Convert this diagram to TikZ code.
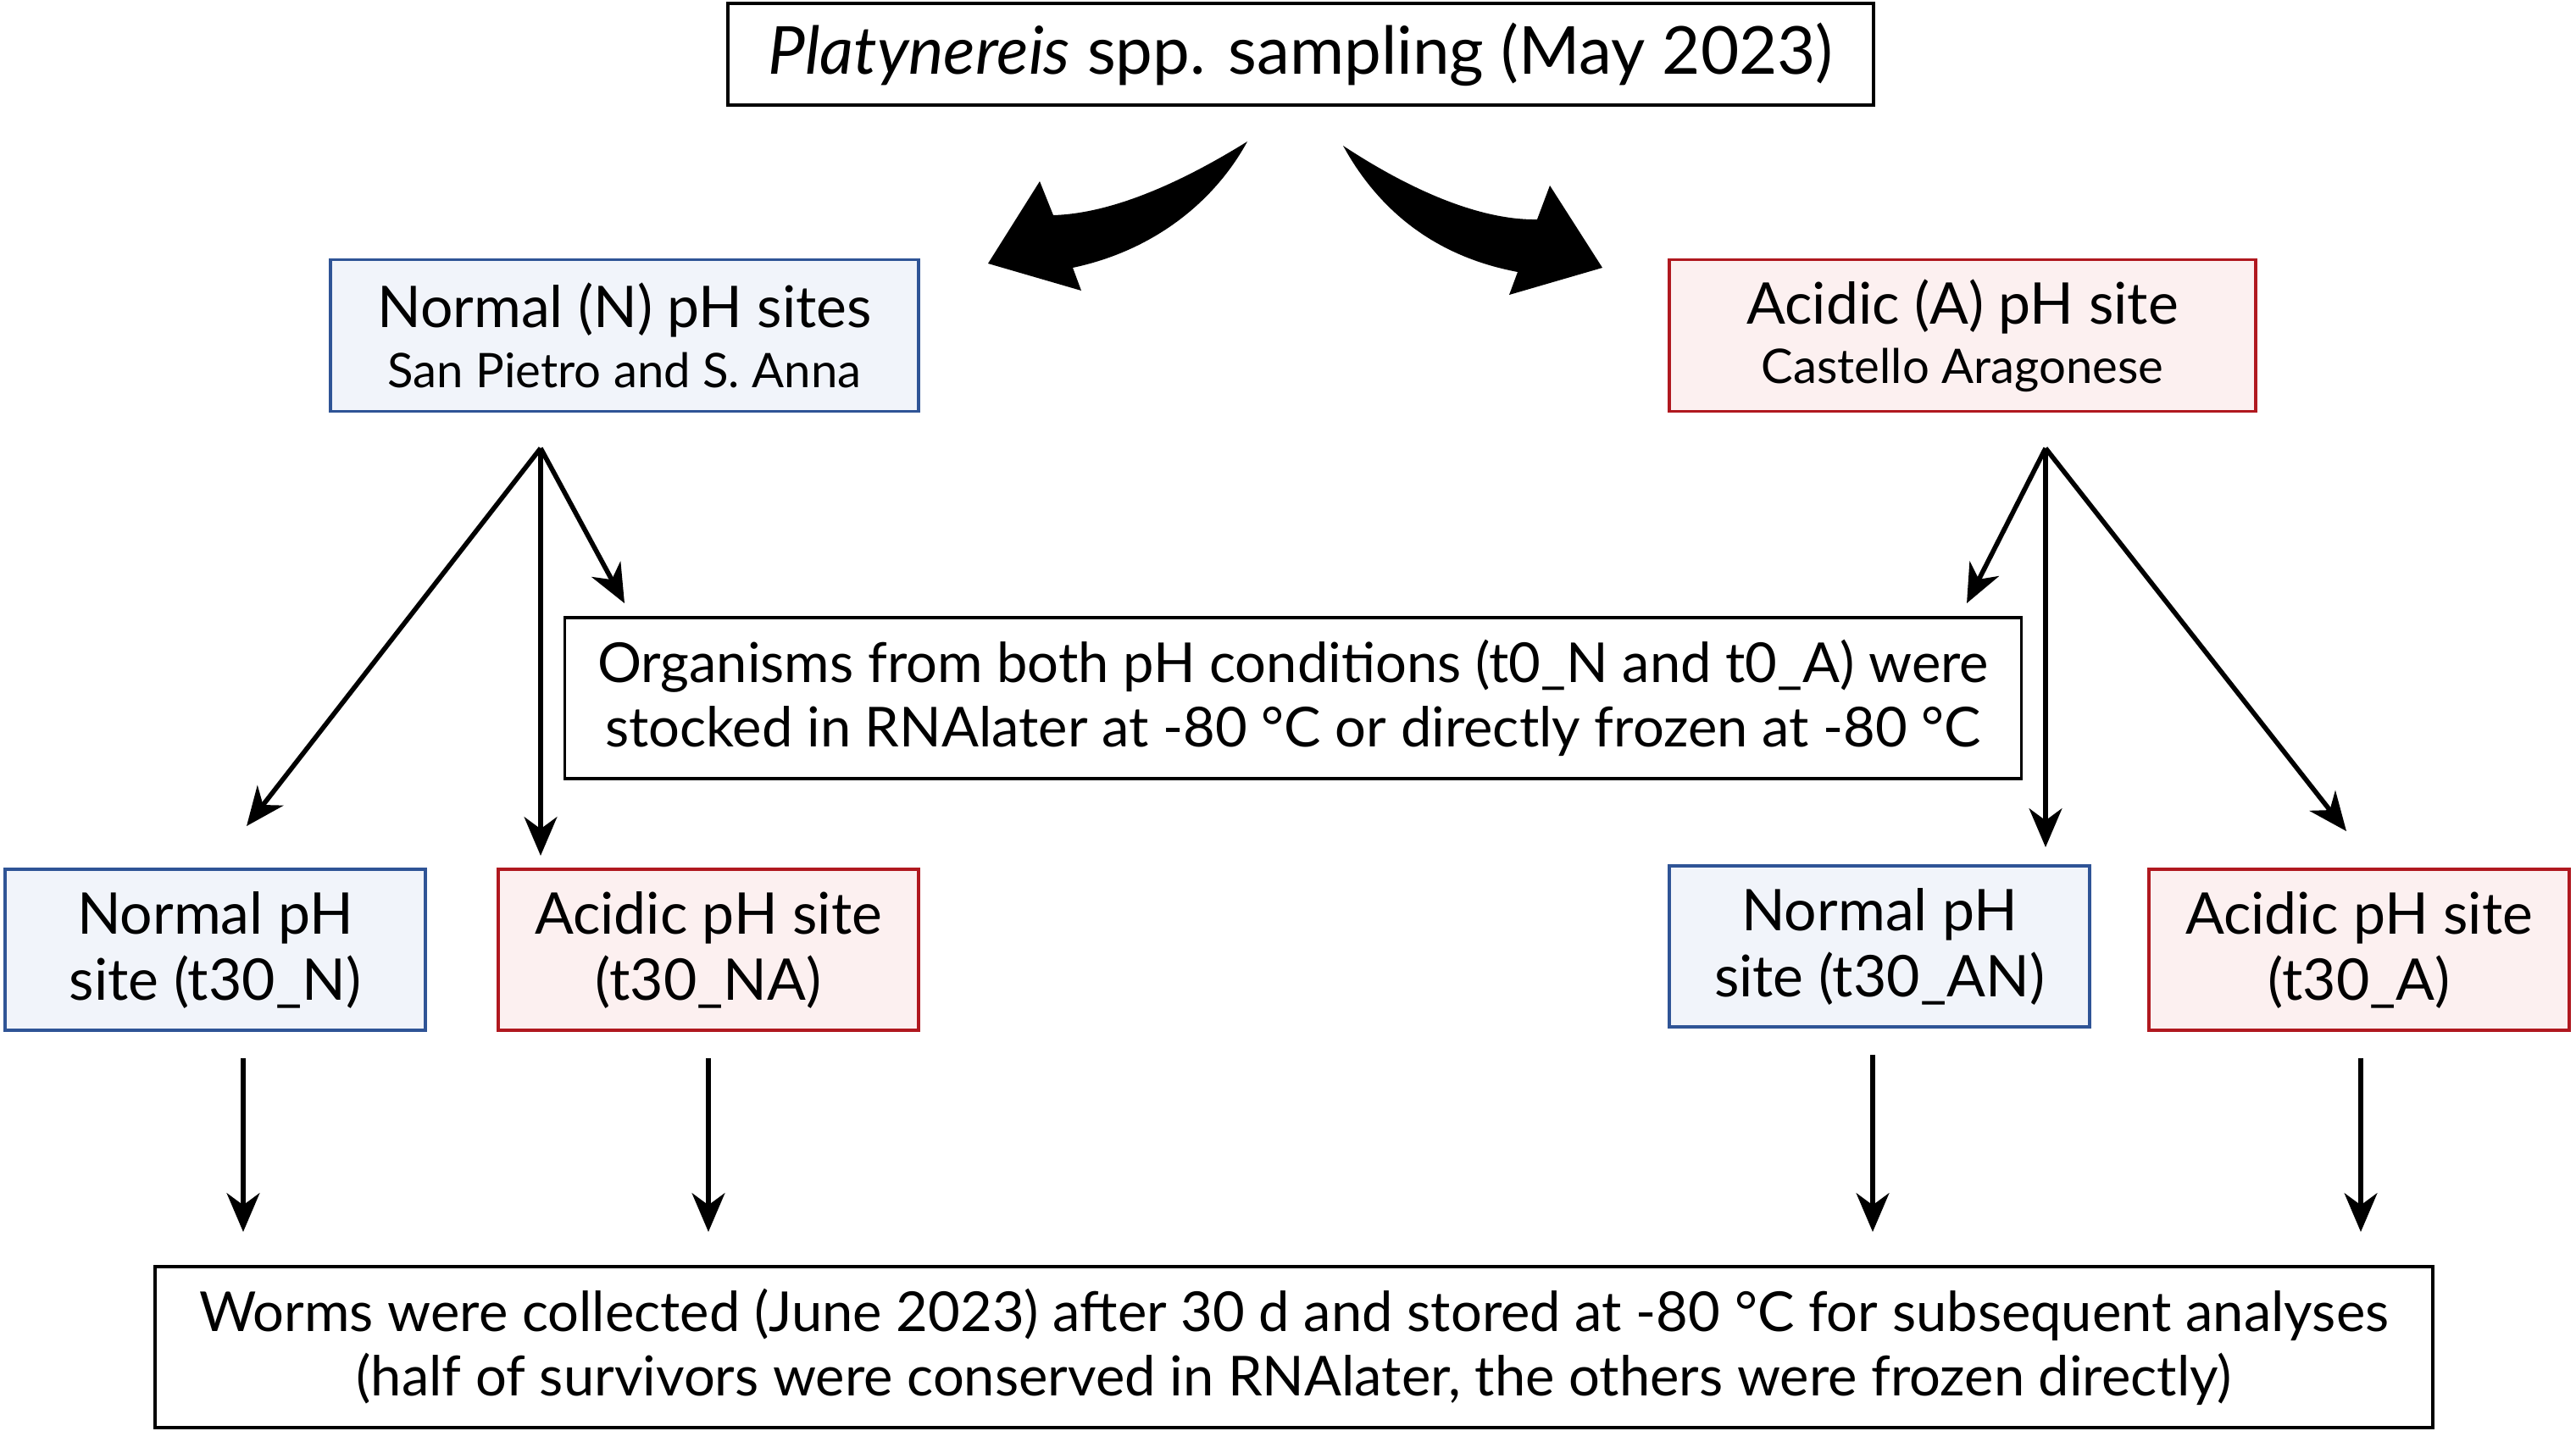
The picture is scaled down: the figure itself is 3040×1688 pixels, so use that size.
\documentclass[tikz,border=0pt]{standalone}
\usepackage{fontspec}
\setmainfont{Lato}
\usetikzlibrary{arrows.meta}
\definecolor{nblue}{HTML}{2F5496}
\definecolor{nbluefill}{HTML}{F1F4FA}
\definecolor{ared}{HTML}{B0181F}
\definecolor{aredfill}{HTML}{FCF0F0}
\newcommand{\maintxt}{\fontsize{18.5}{21.6}\selectfont}
\newcommand{\sitetxt}{\fontsize{19.3}{22.2}\selectfont}
\newcommand{\subtxt}{\fontsize{16}{20}\selectfont}
\newcommand{\toptxt}{\fontsize{22.2}{26}\selectfont}
\tikzset{
  box/.style={draw,line width=1pt,align=center,inner sep=0pt},
  nbox/.style={box,draw=nblue,fill=nbluefill},
  abox/.style={box,draw=ared,fill=aredfill},
  arr/.style={line width=1.6pt,-{Stealth[length=13pt,width=11pt,inset=4pt]}},
}
\begin{document}
\begin{tikzpicture}[x=0.01cm,y=-0.01cm]
\useasboundingbox(0,0) rectangle (3040,1688);
\node[box,font=\toptxt,minimum width=13.51cm,minimum height=1.2cm](title) at (1535,64){\textit{Platynereis} spp. sampling (May 2023)};
% big arrows from the sampling box
\fill(1472,167) .. controls (1390,218) and (1310,252) .. (1243,254)--(1227,214)--(1166,311)--(1276,343)--(1266,316) .. controls (1365,295) and (1435,235) .. (1472,167);
\fill(1585,172) .. controls (1670,228) and (1750,260) .. (1814,259)--(1829,219)--(1891,316)--(1781,348)--(1791,321) .. controls (1690,302) and (1625,245) .. (1585,172);
\node[nbox,font=\subtxt,minimum width=6.94cm,minimum height=1.79cm](nsite) at (737,396){{\sitetxt Normal (N) pH sites}\\San Pietro and S. Anna};
\node[abox,font=\subtxt,minimum width=6.92cm,minimum height=1.79cm](asite) at (2316,396){{\sitetxt Acidic (A) pH site}\\Castello Aragonese};
\node[box,font=\maintxt,minimum width=17.18cm,minimum height=1.9cm](stock) at (1526,824){Organisms from both pH conditions (t0\_N and t0\_A) were\\stocked in RNAlater at -80 °C or directly frozen at -80 °C};
\node[nbox,font=\sitetxt,minimum width=4.96cm,minimum height=1.9cm](t30n) at (254,1121){Normal pH\\site (t30\_N)};
\node[abox,font=\sitetxt,minimum width=4.96cm,minimum height=1.9cm](t30na) at (836,1121){Acidic pH site\\(t30\_NA)};
\node[nbox,font=\sitetxt,minimum width=4.96cm,minimum height=1.9cm](t30an) at (2218,1117){Normal pH\\site (t30\_AN)};
\node[abox,font=\sitetxt,minimum width=4.96cm,minimum height=1.9cm](t30a) at (2784,1121){Acidic pH site\\(t30\_A)};
\node[box,font=\maintxt,minimum width=26.86cm,minimum height=1.9cm](worms) at (1527,1590){Worms were collected (June 2023) after 30 d and stored at -80 °C for subsequent analyses\\(half of survivors were conserved in RNAlater, the others were frozen directly)};
% forks below the site boxes
\coordinate(nfork) at (638,529);
\coordinate(afork) at (2414,529);
\coordinate(nstock) at (737,712);
\coordinate(astock) at (2321,712);
\draw[arr](nfork)--(291,975);
\draw[arr](nfork)--(638,1010);
\draw[arr](nfork)--(nstock);
\draw[arr](afork)--(astock);
\draw[arr](afork)--(2414,1000);
\draw[arr](afork)--(2769,981);
% down to the last box
\foreach \b/\x in {t30n/287,t30na/836,t30an/2210,t30a/2786}{
  \draw[arr,shorten <=31pt*0.2845](\b.south-|\x,0)--(\x,1454);}
\end{tikzpicture}
\end{document}
